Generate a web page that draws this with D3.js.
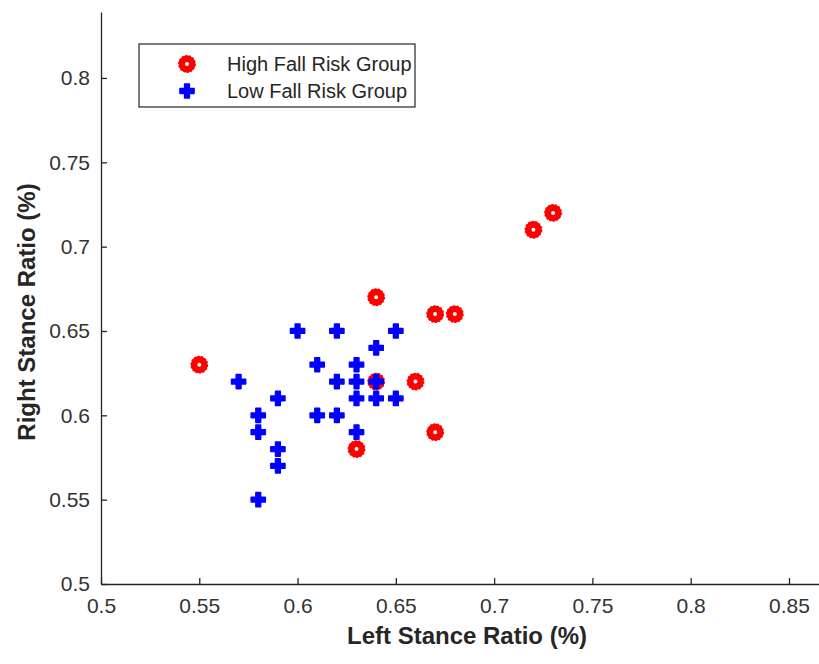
<!DOCTYPE html>
<meta charset="utf-8">
<title>stance ratio</title>
<style>
 body { margin: 0; background: #fff; }
 .axis path, .axis line { stroke: #262626; stroke-width: 1.3; }
 .axis text { font-family: "Liberation Sans", Arial, sans-serif; font-size: 21px; fill: #333; }
 .label { font-family: "Liberation Sans", Arial, sans-serif; font-size: 24px; font-weight: bold; fill: #262626; }
 .legend text { font-family: "Liberation Sans", Arial, sans-serif; font-size: 20px; fill: #262626; }
</style>
<body>
<div class="graph"></div>
</body>
<script src="https://d3js.org/d3.v7.min.js"></script>
<script>

// values

var highLeft  = [0.55, 0.63, 0.64, 0.64, 0.66, 0.67, 0.68, 0.67, 0.72, 0.73];
var highRight = [0.63, 0.58, 0.67, 0.62, 0.62, 0.66, 0.66, 0.59, 0.71, 0.72];

var lowLeft  = [0.60, 0.62, 0.65, 0.64, 0.61, 0.63, 0.57, 0.62, 0.63, 0.64, 0.59,
                0.63, 0.64, 0.65, 0.58, 0.61, 0.62, 0.58, 0.63, 0.59, 0.59, 0.58];
var lowRight = [0.65, 0.65, 0.65, 0.64, 0.63, 0.63, 0.62, 0.62, 0.62, 0.62, 0.61,
                0.61, 0.61, 0.61, 0.60, 0.60, 0.60, 0.59, 0.59, 0.58, 0.57, 0.55];

var xTicks = [0.5, 0.55, 0.6, 0.65, 0.7, 0.75, 0.8, 0.85];
var yTicks = [0.5, 0.55, 0.6, 0.65, 0.7, 0.75, 0.8];

var seriesNames = ["High Fall Risk Group", "Low Fall Risk Group"];

// plot box (the right part runs past the picture edge)

var margin = {top: 12, left: 101},
  w = 732,
  h = 572;

var svg = d3.select(".graph").append("svg")
    .attr("width", 819)
    .attr("height", 664)
  .append("g")
    .attr("transform", "translate(" + margin.left + "," + margin.top + ")");

var xscale = d3.scaleLinear()
  .domain([0.5, 0.8724])
  .range([0, w]);

var yscale = d3.scaleLinear()
  .domain([0.5, 0.8391])
  .range([h, 0]);

var xaxis = d3.axisBottom(xscale)
  .tickValues(xTicks)
  .tickFormat(d3.format("~g"))
  .tickSize(-6)
  .tickSizeOuter(0);

var yaxis = d3.axisLeft(yscale)
  .tickValues(yTicks)
  .tickFormat(d3.format("~g"))
  .tickSize(-6)
  .tickSizeOuter(0);

svg.append("g")
  .attr("class", "axis xaxis")
  .attr("transform", "translate(0," + h + ")")
  .call(xaxis)
  .selectAll("text")
  .attr("y", 14)
  .attr("dy", "0.71em");

svg.append("g")
  .attr("class", "axis yaxis")
  .call(yaxis)
  .selectAll("text")
  .attr("x", -11);

// axis titles

svg.append("text")
  .attr("class", "label")
  .attr("text-anchor", "middle")
  .attr("x", w / 2)
  .attr("y", h + 60)
  .text("Left Stance Ratio (%)");

svg.append("text")
  .attr("class", "label")
  .attr("text-anchor", "middle")
  .attr("transform", "translate(" + (35 - margin.left) + "," + (312 - margin.top) + ") rotate(-90)")
  .text("Right Stance Ratio (%)");

// markers

var cross = d3.symbol().type(d3.symbolCross).size(110);

function ring(sel) {
  sel.append("circle")
    .attr("r", 5.2)
    .attr("fill", "#fff")
    .attr("stroke", "#ff0000")
    .attr("stroke-width", 6.4);
  sel.append("circle")
    .attr("r", 8.1)
    .attr("fill", "none")
    .attr("stroke", "#ff0000")
    .attr("stroke-width", 1.6)
    .attr("stroke-dasharray", "2.2,1.4");
}

function plus(sel) {
  sel.append("path")
    .attr("d", cross)
    .attr("fill", "#0000ff")
    .attr("stroke", "#0000ff")
    .attr("stroke-width", 1.6)
    .attr("stroke-linejoin", "round");
}

svg.selectAll("g.high")
  .data(d3.range(highLeft.length))
  .enter()
  .append("g")
  .attr("class", "high")
  .attr("transform", function(i) {
    return "translate(" + xscale(highLeft[i]) + "," + yscale(highRight[i]) + ")";
  })
  .call(ring);

svg.selectAll("g.low")
  .data(d3.range(lowLeft.length))
  .enter()
  .append("g")
  .attr("class", "low")
  .attr("transform", function(i) {
    return "translate(" + xscale(lowLeft[i]) + "," + yscale(lowRight[i]) + ")";
  })
  .call(plus);

// legend

var legend = svg.append("g")
  .attr("class", "legend")
  .attr("transform", "translate(" + (139 - margin.left) + "," + (44 - margin.top) + ")");

legend.append("rect")
  .attr("width", 276)
  .attr("height", 63)
  .attr("fill", "#fff")
  .attr("stroke", "#262626")
  .attr("stroke-width", 1.2);

var rows = legend.selectAll("g.row")
  .data(seriesNames)
  .enter()
  .append("g")
  .attr("class", "row")
  .attr("transform", function(d, i) {
    return "translate(0," + (20 + i * 27) + ")";
  });

rows.append("g")
  .attr("transform", "translate(48,0)")
  .each(function(d, i) {
    if (i == 0) ring(d3.select(this));
    else plus(d3.select(this));
  });

rows.append("text")
  .attr("x", 88)
  .attr("dy", "0.36em")
  .text(function(d) { return d; });

</script>
